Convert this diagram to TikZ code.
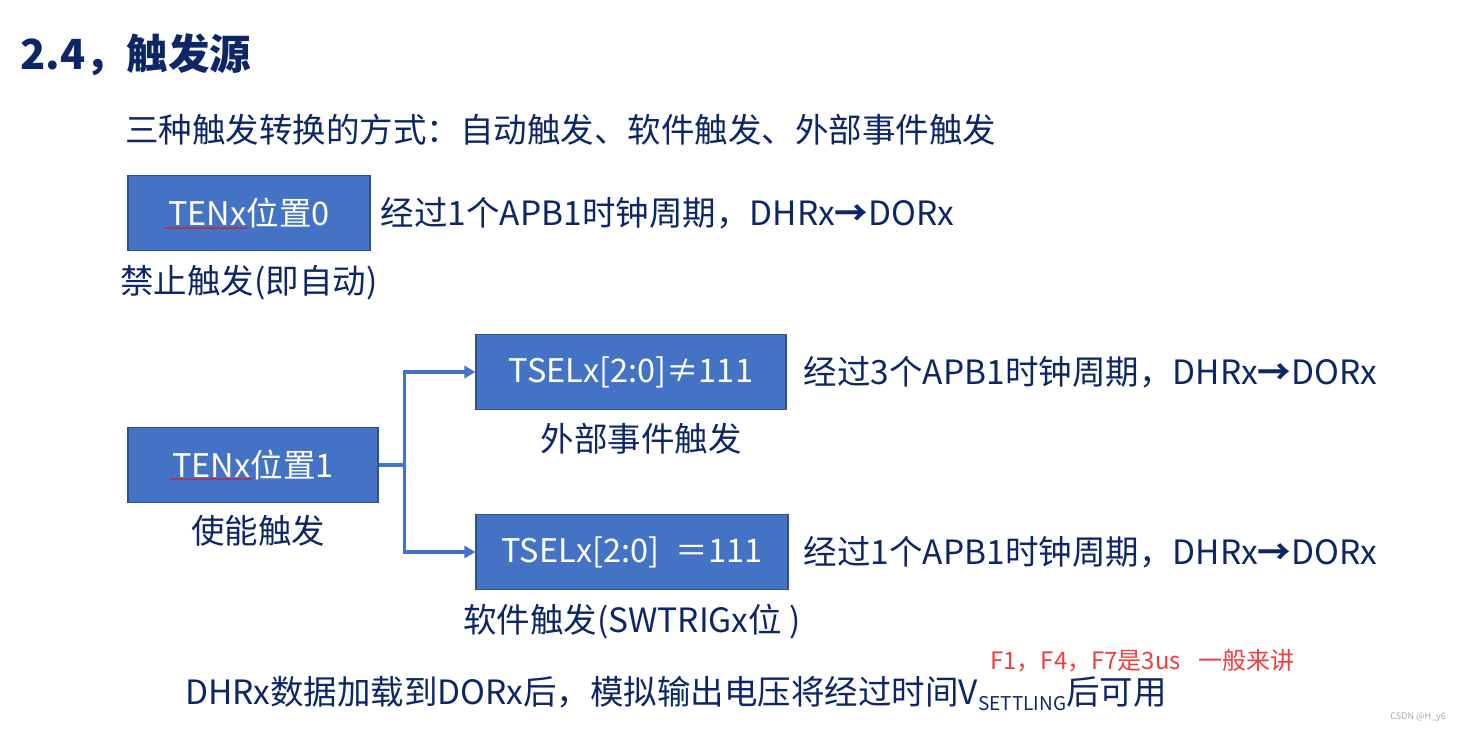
\documentclass[tikz,border=0pt]{standalone}
\usepackage{fontspec}
\setmainfont{Noto Sans CJK SC}
\usepackage{xcolor}
\usetikzlibrary{arrows.meta, positioning, decorations.pathmorphing}

\definecolor{navy}{HTML}{0D2766}
\definecolor{boxblue}{HTML}{4472C4}
\definecolor{boxedge}{HTML}{2F528F}
\definecolor{notered}{HTML}{F03C3C}

\newcommand{\bodysize}{\fontsize{33.5}{40}\selectfont}
\newcommand{\thickto}{{\bfseries →}}

\begin{document}
\begin{tikzpicture}[
            x=1pt, y=-1pt,                     % 1pt por pixel de la referencia
            every node/.style={inner sep=0pt, text=navy, font=\bodysize},
            regbox/.style={
                rectangle,
                draw=boxedge,
                line width=1.2pt,
                fill=boxblue,
                text=white,
                font=\fontsize{32.5}{39}\selectfont,
                minimum height=75pt
            },
            caption/.style={
                text height=29.5pt,
                text depth=4pt
            },
            note/.style={
                anchor=west,
                text height=29.5pt,
                text depth=4pt
            },
            line/.style={
                draw=boxblue,
                line width=3.6pt,
                -{Triangle[length=11pt, width=12pt]}
            },
            squiggle/.style={
                draw=red,
                line width=0.6pt,
                decorate,
                decoration={snake, segment length=3pt, amplitude=0.8pt}
            }
        ]
            \useasboundingbox (0,0) rectangle (1459,732);

            % --- TITULO ---
            \node [note, text height=36.5pt, text depth=5pt,
                   font=\fontsize{41.5}{48}\selectfont\bfseries] (title) at (20,54) {2.4，触发源};
            \node [note] (modes) at (125,130) {三种触发转换的方式：自动触发、软件触发、外部事件触发};

            % --- NODOS ---
            \node [regbox, minimum width=242pt] (zero) at (249,213) {TENx位置0};
            \node [note, right=10pt of zero] (zerotime) {经过1个APB1时钟周期，DHRx\thickto DORx};
            \node [caption, below=13pt of zero] (zerocap) {禁止触发(即自动)};

            \node [regbox, minimum width=250pt] (one) at (253,465) {TENx位置1};
            \node [caption, below=11pt of one, xshift=5pt] (onecap) {使能触发};

            \node [regbox, minimum width=310pt] (ext) at (631,372) {TSELx[2:0]≠111};
            \node [note, right=17pt of ext] (exttime) {经过3个APB1时钟周期，DHRx\thickto DORx};
            \node [caption, below=12pt of ext, xshift=10pt] (extcap) {外部事件触发};

            \node [regbox, minimum width=312pt] (soft) at (632,552) {TSELx[2:0]\enspace＝111};
            \node [note, right=15pt of soft] (softtime) {经过1个APB1时钟周期，DHRx\thickto DORx};
            \node [caption, below=13pt of soft] (softcap) {软件触发(SWTRIGx位 )};

            \node [note] (settle) at (185,692) {DHRx数据加载到DORx后，模拟输出电压将经过时间V\raisebox{-6pt}{\fontsize{19}{22}\selectfont SETTLING}后可用};
            \node [note, text height=21pt, text depth=3pt, text=notered,
                   font=\fontsize{24}{28}\selectfont] (remark) at (990,660) {F1，F4，F7是3us\enspace\ 一般来讲};
            \node [anchor=east, text=gray!70, font=\fontsize{9}{11}\selectfont] (mark) at (1446,717) {CSDN @H\_y6};

            % --- ENLACES ---
            \path [line] (one.east) -- ++(26,0) |- (ext.west);
            \path [line] (one.east) -- ++(26,0) |- (soft.west);

            % subrayado del corrector
            \draw [squiggle] ([xshift=37pt, yshift=23pt]zero.south west) -- ++(84,0);
            \draw [squiggle] ([xshift=42pt, yshift=24pt]one.south west) -- ++(83,0);
        \end{tikzpicture}
\end{document}
